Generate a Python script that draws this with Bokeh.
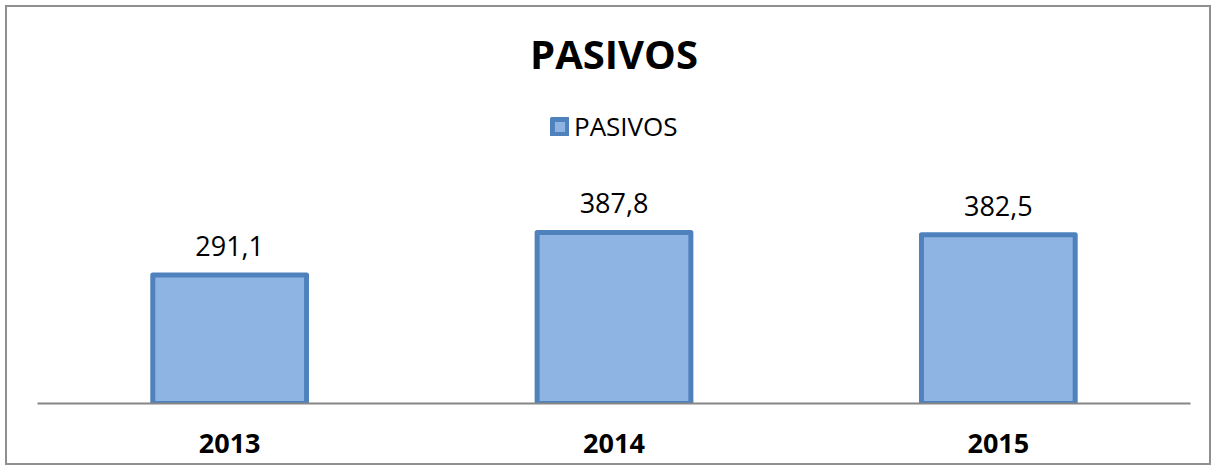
from bokeh.plotting import figure
from bokeh.models import ColumnDataSource, LabelSet, Range1d, FactorRange, Legend, LegendItem
from bokeh.core.properties import value
from bokeh.embed import file_html
from bokeh.resources import INLINE

years = ["2013", "2014", "2015"]
pasivos = [291.1, 387.8, 382.5]
labels = ["291,1", "387,8", "382,5"]

src = ColumnDataSource(dict(year=years, val=pasivos, lab=labels))

p = figure(width=1216, height=470, x_range=FactorRange(*years, range_padding=0),
           y_range=Range1d(0, 714), output_backend="svg", toolbar_location=None,
           min_border_left=37, min_border_right=26, min_border_bottom=67, min_border_top=88,
           title="PASIVOS")
p.title.align = "center"
p.title.text_font = "Open Sans"
p.title.text_font_size = "40px"
p.title.text_font_style = "bold"
p.title.text_color = "black"
p.title.standoff = 15

p.border_fill_alpha = 0
p.styles = {"outline": "2px solid #8f8f8f", "outline-offset": "-7px"}

r = p.vbar(x="year", top="val", width=0.4, source=src, fill_color="#8EB4E3",
           line_color="#4F81BD", line_width=5, line_join="round")

ls = LabelSet(x="year", y="val", text="lab", source=src, text_align="center",
              text_baseline="bottom", y_offset=19, text_font=value("Open Sans"),
              text_font_size="27px", text_color="black")
p.add_layout(ls)

leg = Legend(items=[LegendItem(label="PASIVOS", renderers=[r])], location=(513, 259),
             orientation="horizontal", padding=0, margin=0, border_line_color=None,
             background_fill_alpha=0, label_text_font="Open Sans", label_text_font_size="26px",
             label_text_color="black", glyph_width=19, glyph_height=19, label_standoff=5)
p.add_layout(leg, "center")

p.xgrid.visible = False
p.ygrid.visible = False
p.yaxis.visible = False
p.outline_line_color = None
p.xaxis.axis_line_color = "#868686"
p.xaxis.axis_line_width = 2
p.xaxis.major_tick_line_color = None
p.xaxis.minor_tick_line_color = None
p.xaxis.major_label_text_font = "Open Sans"
p.xaxis.major_label_text_font_size = "27px"
p.xaxis.major_label_text_font_style = "bold"
p.xaxis.major_label_text_color = "black"
p.xaxis.major_label_standoff = 24

open("out.html", "w").write(file_html(p, INLINE))
